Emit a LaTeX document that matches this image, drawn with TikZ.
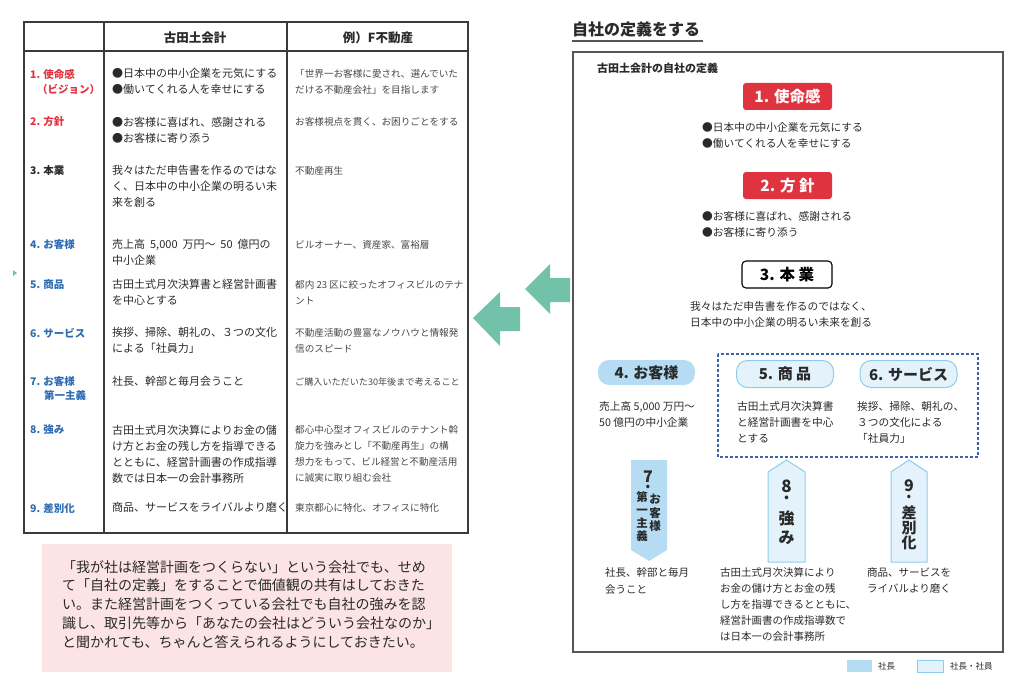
\documentclass[tikz,border=0pt]{standalone}
\usepackage{fontspec}
\setmainfont{Noto Sans CJK JP}
\newcommand{\jpsize}[2]{\fontsize{#1}{#2}\selectfont}
\definecolor{labred}{HTML}{E5323F}
\definecolor{labblue}{HTML}{2E6DB4}
\definecolor{boxred}{HTML}{DF3340}
\definecolor{arrowgreen}{HTML}{72C2AA}
\definecolor{skyfill}{HTML}{B5DCF3}
\definecolor{palefill}{HTML}{E4F3FB}
\definecolor{paleline}{HTML}{8FCCEA}
\definecolor{pinkbg}{HTML}{FBE4E3}
\definecolor{dashblue}{HTML}{3B63AA}
\definecolor{framegray}{HTML}{555555}
\definecolor{linegray}{HTML}{3A3A3A}
\definecolor{txtgray}{HTML}{2A2A2A}
\begin{document}
\begin{tikzpicture}[x=1pt,y=-1pt,
  tabline/.style={draw=linegray,line width=1.4pt},
  head/.style={inner sep=0pt,font=\bfseries\jpsize{12.5}{14},text=txtgray},
  lab/.style={anchor=west,inner sep=0pt,font=\bfseries\jpsize{10.5}{14}},
  cell/.style={anchor=north west,inner sep=0pt,align=left,font=\jpsize{11}{16},text=txtgray},
  ex/.style={anchor=north west,inner sep=0pt,align=left,font=\jpsize{9.6}{16},text=black!72},
  body/.style={anchor=north west,inner sep=0pt,align=left,font=\jpsize{10.7}{16},text=txtgray},
  redbox/.style={fill=boxred,text=white,rounded corners=3pt,minimum width=89pt,minimum height=27pt,inner sep=0pt,font=\bfseries\jpsize{15.5}{16}},
  blackbox/.style={draw=black,line width=1.1pt,fill=white,rounded corners=4pt,minimum width=90pt,minimum height=27pt,inner sep=0pt,font=\bfseries\jpsize{15.5}{16}},
  pill/.style={rounded corners=11pt,minimum width=97pt,minimum height=25pt,inner sep=0pt,font=\bfseries\jpsize{15}{16},text=txtgray},
  tag/.style={inner sep=0pt,font=\bfseries\jpsize{#1}{#1},text=txtgray},
  tag/.default=15,
  num/.style={inner sep=0pt,align=center,font=\bfseries\jpsize{#1}{6.5},text=txtgray}]
\useasboundingbox (0,0) rectangle (1024,698);

% table
\draw[tabline] (24,22) rectangle (468,533);
\draw[tabline] (24,51) -- (468,51);
\draw[tabline] (104,22) -- (104,533);
\draw[tabline] (287,22) -- (287,533);
\node[head] (hA) at (195,38) {古田土会計};
\node[head] (hB) at (378,38) {例）F不動産};

\node[lab,text=labred] (l1) at (30,74) {1. 使命感};
\node[lab,text=labred] (l1b) at (37,89) {（ビジョン）};
\node[lab,text=labred] (l2) at (30,122) {2. 方針};
\node[lab,text=txtgray] (l3) at (30,171) {3. 本業};
\node[lab,text=labblue] (l4) at (30,245) {4. お客様};
\node[lab,text=labblue] (l5) at (30,285) {5. 商品};
\node[lab,text=labblue] (l6) at (30,333) {6. サービス};
\node[lab,text=labblue] (l7) at (30,382) {7. お客様};
\node[lab,text=labblue] (l7b) at (44,395) {第一主義};
\node[lab,text=labblue] (l8) at (30,430) {8. 強み};
\node[lab,text=labblue] (l9) at (30,508) {9. 差別化};

\node[cell] (m1) at (112,68.5) {●日本中の中小企業を元気にする\\●働いてくれる人を幸せにする};
\node[cell] (m2) at (112,116.5) {●お客様に喜ばれ、感謝される\\●お客様に寄り添う};
\node[cell] (m3) at (112,165.5) {我々はただ申告書を作るのではな\\く、日本中の中小企業の明るい未\\来を創る};
\node[cell] (m4) at (112,239.5) {売上高\ \ 5,000\ \ 万円～\ \ 50\ \ 億円の\\中小企業};
\node[cell] (m5) at (112,279.5) {古田土式月次決算書と経営計画書\\を中心とする};
\node[cell] (m6) at (112,327.5) {挨拶、掃除、朝礼の、３つの文化\\による「社員力」};
\node[cell] (m7) at (112,376.5) {社長、幹部と毎月会うこと};
\node[cell] (m8) at (112,424.5) {古田土式月次決算によりお金の儲\\け方とお金の残し方を指導できる\\とともに、経営計画書の作成指導\\数では日本一の会計事務所};
\node[cell] (m9) at (112,502.5) {商品、サービスをライバルより磨く};

\node[ex] (f1) at (295,69.2) {「世界一お客様に愛され、選んでいた\\だける不動産会社」を目指します};
\node[ex] (f2) at (295,117.2) {お客様視点を貫く、お困りごとをする};
\node[ex] (f3) at (295,166.2) {不動産再生};
\node[ex] (f4) at (295,240.2) {ビルオーナー、資産家、富裕層};
\node[ex] (f5) at (295,280.2) {都内 23 区に絞ったオフィスビルのテナ\\ント};
\node[ex] (f6) at (295,328.2) {不動産活動の豊富なノウハウと情報発\\信のスピード};
\node[ex,font=\jpsize{9.1}{16}] (f7) at (295,377.4) {ご購入いただいた30年後まで考えること};
\node[ex] (f8) at (295,425.2) {都心中心型オフィスビルのテナント斡\\旋力を強みとし「不動産再生」の構\\想力をもって、ビル経営と不動産活用\\に誠実に取り組む会社};
\node[ex] (f9) at (295,503.2) {東京都心に特化、オフィスに特化};

% note
\fill[pinkbg] (42,544) rectangle (452,672);
\node[anchor=north west,inner sep=0pt,align=left,font=\jpsize{14}{18.8},text=txtgray] (note) at (62,560)
  {「我が社は経営計画をつくらない」という会社でも、せめ\\て「自社の定義」をすることで価値観の共有はしておきた\\い。また経営計画をつくっている会社でも自社の強みを認\\識し、取引先等から「あなたの会社はどういう会社なのか」\\と聞かれても、ちゃんと答えられるようにしておきたい。};

% arrows
\fill[arrowgreen] (13,270) -- (17,273) -- (13,276) -- cycle;
\fill[arrowgreen] (525,289) -- (550,264) -- (550,278) -- (570,278) -- (570,302) -- (550,302) -- (550,314) -- cycle;
\fill[arrowgreen] (473,318) -- (500,292) -- (500,307) -- (520,307) -- (520,331) -- (500,331) -- (500,346) -- cycle;

% right panel
\node[anchor=west,inner sep=0pt,font=\bfseries\jpsize{16}{16},text=txtgray] (title) at (572,29) {自社の定義をする};
\draw[framegray,line width=1.2pt] (572,41) -- (703,41);
\draw[framegray,line width=1.6pt] (573,52) rectangle (1003,652);
\node[anchor=west,inner sep=0pt,font=\bfseries\jpsize{11}{12},text=txtgray] (sub) at (597,68) {古田土会計の自社の定義};

\node[redbox] (k1) at (787.5,96.5) {1. 使命感};
\node[body,font=\jpsize{10.7}{15.5}] (b1) at (702,122.7) {●日本中の中小企業を元気にする\\●働いてくれる人を幸せにする};
\node[redbox] (k2) at (787.5,185.5) {2. 方 針};
\node[body,font=\jpsize{10.7}{15.5}] (b2) at (702,211.7) {●お客様に喜ばれ、感謝される\\●お客様に寄り添う};
\node[blackbox] (k3) at (787,274.5) {3. 本 業};
\node[body,font=\jpsize{10.7}{15.5}] (b3) at (690,301.7) {我々はただ申告書を作るのではなく、\\日本中の中小企業の明るい未来を創る};

\draw[dashblue,line width=1.2pt,dash pattern=on 3pt off 2pt] (718,354) rectangle (978,457);
\node[pill,fill=skyfill] (k4) at (646.5,372.5) {4. お客様};
\node[pill,fill=palefill,draw=paleline,line width=1pt,minimum height=27pt] (k5) at (785,374) {5. 商 品};
\node[pill,fill=palefill,draw=paleline,line width=1pt,minimum height=27pt] (k6) at (908.5,374) {6. サービス};
\node[body] (b4) at (599,401.7) {売上高\ 5,000\ 万円～\\50\ 億円の中小企業};
\node[body] (b5) at (737,401.7) {古田土式月次決算書\\と経営計画書を中心\\とする};
\node[body] (b6) at (857,401.7) {挨拶、掃除、朝礼の、\\ ３つの文化による\\「社員力」};

% tags
\fill[skyfill] (631,460) -- (667,460) -- (667,550) -- (649,561) -- (631,550) -- cycle;
\filldraw[fill=palefill,draw=paleline,line width=1pt] (768,472) -- (786.5,460) -- (805,472) -- (805,562) -- (768,562) -- cycle;
\filldraw[fill=palefill,draw=paleline,line width=1pt] (891,472) -- (909,460) -- (927,472) -- (927,562) -- (891,562) -- cycle;

\node[num=16] (t7) at (648,480) {7\\.};
\node[tag=11.5,align=center,font=\bfseries\jpsize{11.5}{13.5}] (t7r) at (655,513) {お\\客\\様};
\node[tag=11.5,align=center,font=\bfseries\jpsize{11.5}{13}] (t7l) at (642,517) {第\\一\\主\\義};

\node[num=17] (t8) at (786.5,490) {8\\.};
\node[tag=16] (t8a) at (786.5,518) {強};
\node[tag=16] (t8b) at (786.5,538) {み};

\node[num=16] (t9) at (909,489) {9\\.};
\node[tag=15] (t9a) at (909,513) {差};
\node[tag=15] (t9b) at (909,528) {別};
\node[tag=15] (t9c) at (909,543) {化};

\node[body,font=\jpsize{10.5}{17}] (b7) at (605,567.7) {社長、幹部と毎月\\会うこと};
\node[body,font=\jpsize{10.5}{16}] (b8) at (720,567.7) {古田土式月次決算により\\お金の儲け方とお金の残\\し方を指導できるとともに、\\経営計画書の作成指導数で\\は日本一の会計事務所};
\node[body,font=\jpsize{10.5}{16}] (b9) at (867,567.7) {商品、サービスを\\ライバルより磨く};

% legend
\fill[skyfill] (847,660) rectangle (872,672);
\node[anchor=west,inner sep=0pt,font=\jpsize{8.5}{9},text=txtgray] (g1) at (878,666) {社長};
\filldraw[fill=palefill,draw=paleline,line width=0.8pt] (917,660) rectangle (943,672);
\node[anchor=west,inner sep=0pt,font=\jpsize{8.5}{9},text=txtgray] (g2) at (950,666) {社長・社員};
\end{tikzpicture}
\end{document}
